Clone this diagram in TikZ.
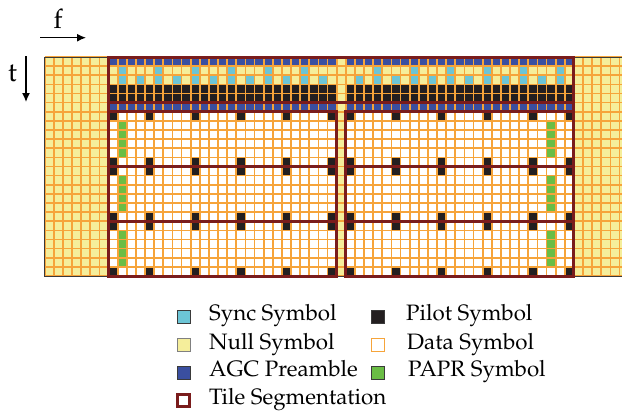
\documentclass[tikz,border=0pt]{standalone}
\usepackage[T1]{fontenc}
\renewcommand{\rmdefault}{ppl}
\usetikzlibrary{arrows.meta}
\definecolor{nullc}{HTML}{F5EE9B}
\definecolor{gridc}{HTML}{F6A43A}
\definecolor{syncc}{HTML}{6CC5D6}
\definecolor{agcc}{HTML}{3A4FA0}
\definecolor{pilotc}{HTML}{231F20}
\definecolor{paprc}{HTML}{6ABD45}
\definecolor{tilec}{HTML}{7A1C1C}
\definecolor{edgec}{HTML}{3A3A3A}
\tikzset{
  tileline/.style={draw=tilec, line width=3pt},
  gridline/.style={draw=gridc, line width=1.7pt},
  axisarrow/.style={-{Latex[length=9pt,width=8pt]}, line width=1.3pt, draw=black},
  legsq/.style={minimum size=13pt, inner sep=0pt, outer sep=0pt, draw=edgec, line width=0.8pt},
  legtext/.style={anchor=base west, inner sep=0pt, font=\fontsize{22.3}{25}\selectfont},
  axislabel/.style={anchor=base, inner sep=0pt, font=\fontsize{27}{30}\selectfont}
}
\begin{document}
\begin{tikzpicture}[x=1pt,y=-1pt]
\useasboundingbox (0,0) rectangle (622,415);
\begin{scope}
\clip (0,0) rectangle (622,415);
\begin{scope}[shift={(44.7,57)}, x=9.125pt, y=-9.125pt]
  % null background
  \fill[nullc] (0,0) rectangle (64,24);
  % data areas
  \fill[white] (7,6) rectangle (32,24);
  \fill[white] (33,6) rectangle (58,24);
  % AGC rows
  \fill[agcc] (7,0) rectangle (32,1);
  \fill[agcc] (33,0) rectangle (58,1);
  \fill[agcc] (7,5) rectangle (32,6);
  \fill[agcc] (33,5) rectangle (58,6);
  % pilot rows in preamble
  \fill[pilotc] (7,3) rectangle (32,5);
  \fill[pilotc] (33,3) rectangle (58,5);
  % sync cells
  \foreach \c in {8,12,16,20,24,28,36,40,44,48,52,56}
    \fill[syncc] (\c,1) rectangle ++(1,1);
  \foreach \c in {8,10,...,30,34,36,...,56}
    \fill[syncc] (\c,2) rectangle ++(1,1);
  % data pilots
  \foreach \r in {6,11,12,17,18,23}
    \foreach \c in {7,11,16,21,26,31,33,38,43,48,53,57}
      \fill[pilotc] (\c,\r) rectangle ++(1,1);
  % PAPR
  \foreach \r in {7,8,9,10,13,14,15,16,19,20,21,22}
    \foreach \c in {8,55}
      \fill[paprc] (\c,\r) rectangle ++(1,1);
  % grid
  \foreach \r in {0,...,24}
    \draw[gridline] (0,\r) -- (64,\r);
  \foreach \c in {0,...,64}
    \draw[gridline] (\c,0) -- (\c,24);
  \draw[edgec, line width=1pt] (0,0) rectangle (64,24);
  % tiles
  \draw[tileline] (7,0) rectangle (58,5);
  \draw[tileline] (7,5) -- (7,6);
  \draw[tileline] (58,5) -- (58,6);
  \foreach \r in {6,12,18}{
    \draw[tileline] (7,\r) rectangle (32,\r+6);
    \draw[tileline] (33,\r) rectangle (58,\r+6);
  }
\end{scope}
\end{scope}
% axes
\node[axislabel] (flab) at (58,28) {f};
\coordinate (fa) at (40,37.7);
\coordinate (fb) at (86,37.7);
\draw[axisarrow] (fa) -- (fb);
\node[axislabel] (tlab) at (12.5,81) {t};
\coordinate (ta) at (26,56);
\coordinate (tb) at (26,102);
\draw[axisarrow] (ta) -- (tb);
% legend
\node[legsq, fill=syncc] (s1) at (183.5,316.7) {};
\node[legsq, fill=nullc, draw=gray] (s2) at (183.5,345) {};
\node[legsq, fill=agcc] (s3) at (183.5,372.5) {};
\node[legsq, fill=white, draw=tilec, line width=2.8pt, minimum size=12pt] (s4) at (183.5,400.8) {};
\node[legsq, fill=pilotc] (s5) at (378,316.7) {};
\node[legsq, fill=white, draw=gridc, line width=1pt] (s6) at (378,345) {};
\node[legsq, fill=paprc] (s7) at (378,372.5) {};
\node[legtext] (l1) at (209,320.7) {Sync Symbol};
\node[legtext] (l2) at (209,349) {Null Symbol};
\node[legtext] (l3) at (209,376.5) {AGC Preamble};
\node[legtext] (l4) at (209,404.8) {Tile Segmentation};
\node[legtext] (l5) at (406,320.7) {Pilot Symbol};
\node[legtext] (l6) at (406.7,349) {Data Symbol};
\node[legtext] (l7) at (408,376.5) {PAPR Symbol};
\end{tikzpicture}
\end{document}
